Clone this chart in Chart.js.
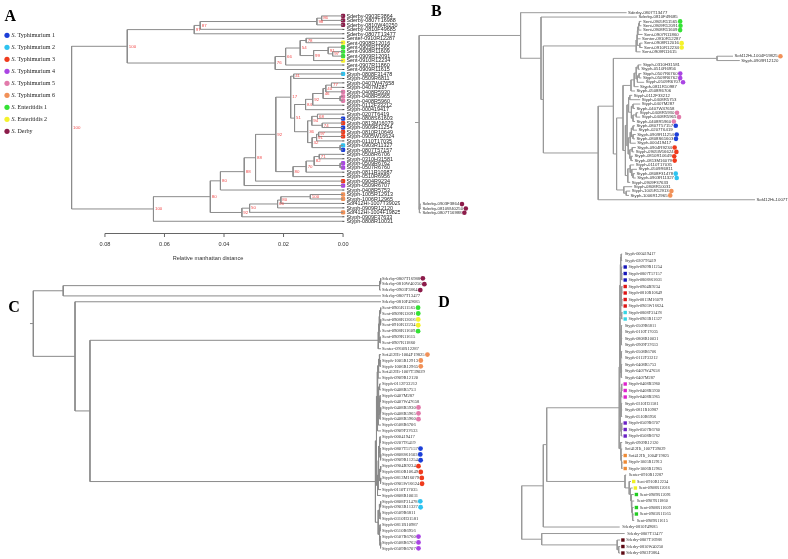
<!DOCTYPE html>
<html>
<head>
<meta charset="utf-8">
<title>Dendrograms A-D</title>
<script src="https://cdn.jsdelivr.net/npm/chart.js@4.4.1/dist/chart.umd.min.js"></script>
<style>
  body { margin: 0; background: #fff; }
  #wrap { position: relative; width: 788px; height: 559px; overflow: hidden; }
  canvas { position: absolute; }
</style>
</head>
<body>
<div id="wrap">
  <canvas id="treeA" style="left:0;top:0" width="400" height="270"></canvas>
  <canvas id="treeB" style="left:400px;top:0" width="388" height="230"></canvas>
  <canvas id="treeC" style="left:0;top:270px" width="440" height="289"></canvas>
  <canvas id="treeD" style="left:430px;top:240px" width="358" height="319"></canvas>
</div>
<script>
// Four trees of the same 47 Salmonella isolates

// --- Shared legend / colours ---
const legendKeys = ['T1', 'T2', 'T3', 'T4', 'T5', 'T6', 'E1', 'E2', 'D'];
const legendNames = ['Typhimurium 1', 'Typhimurium 2', 'Typhimurium 3', 'Typhimurium 4',
                     'Typhimurium 5', 'Typhimurium 6', 'Enteritidis 1', 'Enteritidis 2', 'Derby'];
const paletteMain = { T1: '#1c3fd8', T2: '#2ec3f0', T3: '#ef3b1d', T4: '#aa45e3', T5: '#e27bab',
                      T6: '#f19158', E1: '#35e235', E2: '#f5f22c', D: '#8c1c4a' };
const paletteD = { T1: '#1515b8', T2: '#35d5e5', T3: '#dd1515', T4: '#6a22c4', T5: '#dd22cc',
                   T6: '#ee8a35', E1: '#22cc22', E2: '#f0f020', D: '#5e0a14' };

// --- Panel A: UPGMA dendrogram, relative manhattan distance ---
const namesA = [
  'Sderby-0903F3864', 'Sderby-0807T16988', 'Sderby-0810W40250', 'Sderby-0810F49685', 'Sderby-0807T13477',
  'Senter-0910R12287', 'Sent-0908R12016', 'Sent-0905R11565', 'Sent-0908R11609', 'Sent-0909R12091',
  'Sent-0910R12234', 'Sent-0907R11860', 'Sent-0909R11615', 'Styph-0808F31478', 'Styph-0509R6811',
  'Styph-0407W47658', 'Styph-0407M287', 'Styph-0408R5930', 'Styph-0408R5965', 'Styph-0408R5960',
  'Styph-0112F33212', 'Styph-000419417', 'Styph-0207T6419', 'Styph-0808S61603', 'Styph-0813M16079',
  'Styph-0909R11254', 'Styph-0810R10649', 'Styph-0905W16624', 'Styph-0110T17035', 'Styph-0903R11327',
  'Styph-0807T57157', 'Styph-0508R6706', 'Styph-0310H31581', 'Styph-0509R6762', 'Styph-0507R6760',
  'Styph-0811R10987', 'Styph-0510R6956', 'Styph-0904R9234', 'Styph-0509R6707', 'Styph-0408R5753',
  'Styph-1005R12913', 'Styph-1006R12965', 'Sof412Hi-1007T39029', 'Styph-0909R12120', 'Sof412Hi-1004F19825',
  'Styph-0909F37633', 'Styph-0808R10031'
];
const colorsA = [
  'D', 'D', 'D', null, null, null, 'E2', 'E1', 'E1', 'E1',
  'E2', null, null, 'T2', null, null, null, 'T5', 'T5', 'T5',
  null, null, null, 'T1', 'T3', 'T1', 'T3', 'T3', null, 'T2',
  'T1', null, null, 'T4', 'T4', null, null, 'T3', 'T4', null,
  'T6', 'T6', null, null, 'T6', null, null
];
const tipsA = namesA.map(() => 0); // every leaf ends at distance 0
// [node, child, child, height, bootstrap]
const nodesA = [
  ['a1', 0, 1, 0.0072, 86], ['a2', 'a1', 2, 0.0088, 98], ['a3', 'a2', 3, 0.0480, 87], ['a4', 'a3', 4, 0.0500, 97],
  ['e1', 5, 6, 0.0124, 78], ['e2', 8, 9, 0.0035, 97], ['e3', 7, 'e2', 0.0050, 91], ['e4', 'e3', 10, 0.0099, 99],
  ['e5', 'e1', 'e4', 0.0144, 54], ['e6', 'e5', 11, 0.0193, 66], ['e7', 'e6', 12, 0.0228, 76],
  ['top', 'a4', 'e7', 0.0725, 100],
  ['t1', 13, 14, 0.0166, 41],
  ['p1', 15, 16, 0.0039, 77], ['p2', 'p1', 17, 0.0058, 40], ['p3', 18, 19, 0.0010, null], ['p4', 'p2', 'p3', 0.0067, 46],
  ['p5', 'p4', 20, 0.0102, 92], ['p6', 'p5', 21, 0.0126, 84],
  ['b1', 22, 23, 0.0086, 68], ['b2', 24, 25, 0.0070, 74], ['b3', 'b1', 'b2', 0.0105, 94],
  ['b4', 26, 27, 0.0082, 97], ['b5', 'b4', 28, 0.0089, 91], ['b6', 29, 30, 0.0010, null],
  ['b7', 'b5', 'b6', 0.0104, 32], ['b8', 'b3', 'b7', 0.0119, 36], ['b9', 'p6', 'b8', 0.0163, 51],
  ['t2', 't1', 'b9', 0.0176, 17],
  ['u1', 31, 32, 0.0080, 71], ['u2', 33, 34, 0.0010, null], ['u3', 'u1', 'u2', 0.0097, 82],
  ['u4', 'u3', 35, 0.0124, 70], ['u5', 'u4', 36, 0.0168, 80],
  ['t3', 't2', 'u5', 0.0226, 92], ['t4', 't3', 37, 0.0294, 88], ['t5', 't4', 38, 0.0332, 88], ['t6', 't5', 39, 0.0412, 80],
  ['o1', 40, 41, 0.0110, 100], ['o2', 'o1', 42, 0.0209, 80], ['o3', 'o2', 43, 0.0220, 66],
  ['o4', 'o3', 44, 0.0314, 50], ['o5', 'o4', 45, 0.0340, 92],
  ['t7', 't6', 'o5', 0.0446, 80], ['bot', 't7', 46, 0.0637, 100],
  ['root', 'top', 'bot', 0.0912, 100]
];
const axisTicksA = [0.08, 0.06, 0.04, 0.02, 0.00];

// --- Panel B: phylogram ---
const namesB = [
  'Sderby-0807T13477', 'Sderby-0810F49685', 'Sent-0905R11565', 'Sent-0909R12091', 'Sent-0908R11609',
  'Sent-0907R11860', 'Senter-0910R12287', 'Sent-0908R12016', 'Sent-0910R12234', 'Sent-0909R11615',
  'Sof412Hi-1004F19825', 'Styph-0909R12120', 'Styph-0310H31581', 'Styph-0510R6956', 'Styph-0507R6760',
  'Styph-0509R6762', 'Styph-0509R6707', 'Styph-0811R10987', 'Styph-0508R6706', 'Styph-0112F33212',
  'Styph-0408R5753', 'Styph-0407M287', 'Styph-0407W47658', 'Styph-0408R5930', 'Styph-0408R5965',
  'Styph-0408R5960', 'Styph-0807T57157', 'Styph-0207T6419', 'Styph-0909R11254', 'Styph-0808S61603',
  'Styph-000419417', 'Styph-0904R9234', 'Styph-0905W16624', 'Styph-0810R10649', 'Styph-0813M16079',
  'Styph-0110T17035', 'Styph-0509R6811', 'Styph-0808F31478', 'Styph-0903R11327', 'Styph-0909F37633',
  'Styph-0808R10031', 'Styph-1005R12913', 'Styph-1006R12965', 'Sof412Hi-1007T39029', 'Sderby-0903F3864',
  'Sderby-0810W40250', 'Sderby-0807T16988'
];
const colorsB = [
  null, null, 'E1', 'E1', 'E1', null, null, 'E2', 'E2', null,
  'T6', null, null, null, 'T4', 'T4', 'T4', null, null, null,
  null, null, null, 'T5', 'T5', 'T5', 'T1', null, 'T1', 'T1',
  null, 'T3', 'T3', 'T3', 'T3', null, null, 'T2', 'T2', null,
  null, 'T6', 'T6', null, 'D', 'D', 'D'
];
const tipsB = [
  0.519, 0.545, 0.556, 0.556, 0.556, 0.559, 0.554, 0.559, 0.559, 0.554,
  0.785, 0.802, 0.556, 0.552, 0.556, 0.556, 0.563, 0.549, 0.540, 0.533,
  0.553, 0.553, 0.540, 0.548, 0.553, 0.540, 0.540, 0.545, 0.542, 0.540,
  0.542, 0.542, 0.538, 0.535, 0.535, 0.538, 0.545, 0.540, 0.542, 0.528,
  0.533, 0.528, 0.525, 0.840, 0.005, 0.005, 0.005
];
const nodesB = [
  ['d1', 44, 45, 0.002], ['d2', 'd1', 46, 0.001],
  ['en1', 2, 3, 0.551], ['en2', 'en1', 4, 0.549], ['en3', 7, 8, 0.552], ['en4', 'en2', 5, 0.547],
  ['en5', 'en4', 6, 0.546], ['en6', 'en5', 'en3', 0.545], ['ent', 'en6', 9, 0.543],
  ['or', 10, 11, 0.745],
  ['g1', 12, 13, 0.548], ['g2', 14, 15, 0.550], ['g3', 'g2', 16, 0.546], ['g4', 'g1', 'g3', 0.543],
  ['g5', 'g4', 17, 0.538], ['g6', 'g5', 18, 0.530],
  ['h1', 19, 20, 0.527], ['h2', 21, 22, 0.535], ['h3', 23, 24, 0.543], ['h4', 'h3', 25, 0.535],
  ['h5', 'h2', 'h4', 0.531], ['h6', 'h1', 'h5', 0.524],
  ['k1', 26, 27, 0.535], ['k2', 28, 29, 0.535], ['k3', 'k1', 'k2', 0.531], ['k4', 'k3', 30, 0.528],
  ['k5', 31, 32, 0.533], ['k6', 33, 34, 0.530], ['k7', 'k5', 'k6', 0.527], ['k8', 'k4', 'k7', 0.523],
  ['m1', 37, 38, 0.535], ['m2', 36, 'm1', 0.532], ['m3', 35, 'm2', 0.528], ['m4', 'm3', 39, 0.522],
  ['q1', 'h6', 'k8', 0.520], ['q2', 'q1', 'm4', 0.516], ['q3', 'g6', 'q2', 0.510],
  ['o1', 41, 42, 0.518], ['o2', 40, 'o1', 0.512],
  ['T2', 'q3', 'o2', 0.494], ['T1', 'or', 'T2', 0.486], ['T0', 'T1', 43, 0.448],
  ['B3', 'ent', 'T0', 0.311], ['B2', 1, 'B3', 0.305], ['B1', 0, 'B2', 0.254],
  ['root', 'B1', 'd2', 0]
];

// --- Panel C: cladogram ---
const namesC = [
  'Sderby-0807T16988', 'Sderby-0810W40250', 'Sderby-0903F3864', 'Sderby-0807T13477', 'Sderby-0810F49685',
  'Sent-0905R11565', 'Sent-0909R12091', 'Sent-0908R12016', 'Sent-0910R12234', 'Sent-0908R11609',
  'Sent-0909R11615', 'Sent-0907R11860', 'Senter-0910R12287', 'Sof412Hi-1004F19825', 'Styph-1005R12913',
  'Styph-1006R12965', 'Sof412Hi-1007T39029', 'Styph-0909R12120', 'Styph-0112F33212', 'Styph-0408R5753',
  'Styph-0407M287', 'Styph-0407W47658', 'Styph-0408R5930', 'Styph-0408R5965', 'Styph-0408R5960',
  'Styph-0508R6706', 'Styph-0909F37633', 'Styph-000419417', 'Styph-0207T6419', 'Styph-0807T57157',
  'Styph-0808S61603', 'Styph-0909R11254', 'Styph-0904R9234', 'Styph-0810R10649', 'Styph-0813M16079',
  'Styph-0905W16624', 'Styph-0110T17035', 'Styph-0808R10031', 'Styph-0808F31478', 'Styph-0903R11327',
  'Styph-0509R6811', 'Styph-0310H31581', 'Styph-0811R10987', 'Styph-0510R6956', 'Styph-0507R6760',
  'Styph-0508R6762', 'Styph-0509R6707'
];
const colorsC = [
  'D', 'D', 'D', null, null, 'E1', 'E1', 'E2', 'E2', 'E1',
  null, null, null, 'T6', 'T6', 'T6', null, null, null, null,
  null, null, 'T5', 'T5', 'T5', null, null, null, null, 'T1',
  'T1', 'T1', 'T3', 'T3', 'T3', 'T3', null, null, 'T2', 'T2',
  null, null, null, null, 'T4', 'T4', 'T4'
];
const tipsC = namesC.map(() => 0);
const nodesC = [
  ['d1', 0, 1, 0.002], ['d2', 'd1', 2, 0.004], ['c1', 'd2', 3, 0.914],
  ['e1', 5, 6, 0.002], ['e2', 7, 8, 0.002], ['e3', 'e1', 'e2', 0.004], ['e4', 'e3', 9, 0.005],
  ['e5', 10, 11, 0.003], ['e6', 'e4', 'e5', 0.006], ['e7', 'e6', 12, 0.008],
  ['o1', 14, 15, 0.003], ['o2', 13, 'o1', 0.005], ['o3', 'o2', 16, 0.007], ['o4', 'o3', 17, 0.009],
  ['p1', 22, 23, 0.002], ['p2', 'p1', 24, 0.003], ['p3', 20, 21, 0.003], ['p4', 'p3', 'p2', 0.005],
  ['p5', 18, 19, 0.004], ['p6', 'p5', 'p4', 0.007], ['p7', 'p6', 25, 0.008], ['p8', 'p7', 26, 0.010],
  ['b1', 27, 28, 0.003], ['b0', 30, 31, 0.002], ['b2', 29, 'b0', 0.003], ['b3', 'b1', 'b2', 0.005],
  ['r1', 32, 33, 0.002], ['r2', 34, 35, 0.002], ['r3', 'r1', 'r2', 0.004], ['b4', 'b3', 'r3', 0.007],
  ['b5', 'b4', 36, 0.008], ['b6', 'b5', 37, 0.010],
  ['q1', 38, 39, 0.002], ['q2', 40, 41, 0.003], ['q3', 'q1', 'q2', 0.005], ['q4', 42, 43, 0.003],
  ['q0', 45, 46, 0.002], ['q5', 44, 'q0', 0.003], ['q6', 'q4', 'q5', 0.005], ['q7', 'q3', 'q6', 0.008],
  ['t1', 'o4', 'p8', 0.011], ['t2', 't1', 'b6', 0.013], ['t3', 't2', 'q7', 0.016],
  ['c3', 'e7', 't3', 0.837], ['c2', 4, 'c3', 0.880], ['root', 'c1', 'c2', 1.0]
];

// --- Panel D: phylogram ---
const namesD = [
  'Styph-000419417', 'Styph-0207T6419', 'Styph-0909R11254', 'Styph-0807T57157', 'Styph-0808S61603',
  'Styph-0904R9234', 'Styph-0810R10649', 'Styph-0813M16079', 'Styph-0905W16624', 'Styph-0808F31478',
  'Styph-0903R11327', 'Styph-0509R6811', 'Styph-0110T17035', 'Styph-0808R10031', 'Styph-0909F37633',
  'Styph-0508R6706', 'Styph-0112F33212', 'Styph-0408R5753', 'Styph-0407W47658', 'Styph-0407M287',
  'Styph-0408R5960', 'Styph-0408R5930', 'Styph-0408R5965', 'Styph-0310H31581', 'Styph-0811R10987',
  'Styph-0510R6956', 'Styph-0509R6707', 'Styph-0507R6760', 'Styph-0508R6762', 'Styph-0909R12120',
  'Sof412Hi_1007T39029', 'Sof412Hi_1004F19825', 'Styph-1005R12913', 'Styph-1006R12965', 'Senter-0910R12287',
  'Sent-0910R12234', 'Sent-0908R12016', 'Sent-0909R12091', 'Sent-0907R11860', 'Sent-0908R11609',
  'Sent-0905R11565', 'Sent-0909R11615', 'Sderby-0810F49685', 'Sderby-0807T13477', 'Sderby-0807T16988',
  'Sderby-0810W40250', 'Sderby-0903F3864'
];
const colorsD = [
  null, null, 'T1', 'T1', 'T1', 'T3', 'T3', 'T3', 'T3', 'T2',
  'T2', null, null, null, null, null, null, null, null, null,
  'T5', 'T5', 'T5', null, null, null, 'T4', 'T4', 'T4', null,
  null, 'T6', 'T6', 'T6', null, 'E2', 'E2', 'E1', null, 'E1',
  'E1', null, null, null, 'D', 'D', 'D'
];
const tipsD = [
  0.1005, 0.1005, 0.1008, 0.1008, 0.1008, 0.1008, 0.1008, 0.1008, 0.1008, 0.1008,
  0.1008, 0.1005, 0.1005, 0.1005, 0.1005, 0.1005, 0.1005, 0.1005, 0.1005, 0.1005,
  0.1008, 0.1008, 0.1008, 0.1005, 0.1005, 0.1005, 0.1008, 0.1008, 0.1008, 0.1005,
  0.1005, 0.1008, 0.1008, 0.1008, 0.1045, 0.1093, 0.1110, 0.1120, 0.1125, 0.1120,
  0.1120, 0.1125, 0.0980, 0.1030, 0.0985, 0.0985, 0.0985
];
const nodesD = [
  ['a1', 3, 4, 0.1000], ['a2', 2, 'a1', 0.0995], ['a3', 0, 1, 0.0995], ['a4', 'a3', 'a2', 0.0990],
  ['r1', 5, 6, 0.1000], ['r2', 7, 8, 0.1000], ['r3', 'r1', 'r2', 0.0995], ['c1', 9, 10, 0.1000],
  ['r4', 'r3', 'c1', 0.0990], ['a5', 'a4', 'r4', 0.0985],
  ['s1', 11, 12, 0.0998], ['s2', 13, 14, 0.0998], ['s3', 's1', 's2', 0.0993], ['s4', 15, 16, 0.0998],
  ['s5', 17, 18, 0.0998], ['s6', 's5', 19, 0.0995], ['s7', 's4', 's6', 0.0990], ['s8', 's3', 's7', 0.0986],
  ['p1', 20, 21, 0.1000], ['p2', 'p1', 22, 0.0996], ['p3', 23, 24, 0.0998], ['p4', 'p3', 25, 0.0994],
  ['p5', 'p2', 'p4', 0.0990], ['u1', 26, 27, 0.1000], ['u2', 'u1', 28, 0.0996], ['p6', 'p5', 'u2', 0.0986],
  ['o1', 32, 33, 0.1000], ['o2', 31, 'o1', 0.0996], ['o3', 30, 'o2', 0.0992], ['o4', 29, 'o3', 0.0988],
  ['T1', 'a5', 's8', 0.0982], ['T2', 'T1', 'p6', 0.0979], ['ty', 'T2', 'o4', 0.0975],
  ['en6', 40, 41, 0.1110], ['en5', 39, 'en6', 0.1105], ['en4', 38, 'en5', 0.1100], ['en3', 37, 'en4', 0.1095],
  ['en2', 36, 'en3', 0.1088], ['en1', 35, 'en2', 0.1075], ['ent', 34, 'en1', 0.1033],
  ['Nb', 'ty', 'ent', 0.0250], ['Na', 'Nb', 42, 0.0216],
  ['tr0', 45, 46, 0.0970], ['tr', 44, 'tr0', 0.0955], ['Nd', 43, 'tr', 0.0200],
  ['root', 'Na', 'Nd', 0]
];

// --- Tree layout: leaves at y = index, node y = middle of its two children ---
function layoutTree(nodes, tips) {
  const pos = {};
  tips.forEach((x, i) => { pos[i] = { x, y: i }; });
  const paths = [];
  nodes.forEach(([id, a, b, x]) => {
    const p = pos[a], q = pos[b];
    pos[id] = { x, y: (p.y + q.y) / 2 };
    paths.push([{ x: p.x, y: p.y }, { x, y: p.y }, { x, y: q.y }, { x: q.x, y: q.y }]);
  });
  return { pos, paths };
}

function makeTree(id, opt) {
  const tree = layoutTree(opt.nodes, opt.tips);
  const root = tree.pos[opt.nodes[opt.nodes.length - 1][0]];
  if (opt.stub) tree.paths.push([{ x: root.x, y: root.y }, { x: root.x + opt.stub, y: root.y }]);

  const datasets = tree.paths.map(p => ({
    data: p, showLine: true, borderColor: opt.lineColor, borderWidth: 1,
    pointRadius: 0, pointHoverRadius: 0, tension: 0
  }));
  if (opt.tipDots) {
    const idx = opt.colors.map((c, i) => c ? i : -1).filter(i => i >= 0);
    datasets.push({
      data: idx.map(i => ({ x: opt.tips[i], y: i })),
      pointStyle: 'rectRounded', pointRadius: 2.5, borderWidth: 0,
      backgroundColor: idx.map(i => opt.palette[opt.colors[i]])
    });
  }

  return new Chart(document.getElementById(id), {
    type: 'scatter',
    data: { datasets },
    options: {
      responsive: false,
      animation: false,
      events: [],
      layout: { padding: 0 },
      plugins: { legend: { display: false }, tooltip: { enabled: false } },
      scales: {
        x: { type: 'linear', display: false, min: opt.xMin, max: opt.xMax, reverse: !!opt.xReverse },
        y: { type: 'linear', display: false, min: opt.yMin, max: opt.yMax, reverse: true }
      }
    },
    plugins: [{ id: 'treeText', afterDraw: chart => opt.draw(chart, tree) }]
  });
}

function panelLetter(ctx, letter, x, y) {
  ctx.font = 'bold 16px "Liberation Serif", "DejaVu Serif", serif';
  ctx.textAlign = 'left';
  ctx.textBaseline = 'alphabetic';
  ctx.fillStyle = '#000';
  ctx.fillText(letter, x, y);
}

// labels followed by a coloured dot (panels B and C)
function labelsThenDots(chart, names, tips, colors, font, gap, dotR) {
  const ctx = chart.ctx, xs = chart.scales.x, ys = chart.scales.y;
  ctx.font = font;
  ctx.textBaseline = 'middle';
  ctx.textAlign = 'left';
  names.forEach((name, i) => {
    const x = xs.getPixelForValue(tips[i]) + gap, y = ys.getPixelForValue(i);
    ctx.fillStyle = '#333';
    ctx.fillText(name, x, y);
    if (colors[i]) {
      const w = ctx.measureText(name).width;
      ctx.fillStyle = paletteMain[colors[i]];
      ctx.beginPath();
      ctx.arc(x + w + dotR + 0.4, y, dotR, 0, 2 * Math.PI);
      ctx.fill();
    }
  });
}

// --- Panel A ---
makeTree('treeA', {
  nodes: nodesA, tips: tipsA, colors: colorsA, palette: paletteMain, tipDots: true,
  lineColor: '#8c8c8c',
  xMin: -0.01778, xMax: 0.11391, xReverse: true,
  yMin: -2.674, yMax: 56.02,
  draw(chart, tree) {
    const ctx = chart.ctx, xs = chart.scales.x, ys = chart.scales.y;
    ctx.save();
    ctx.textBaseline = 'middle';
    ctx.textAlign = 'left';
    ctx.font = '5.4px "Liberation Sans", Arial, sans-serif';
    namesA.forEach((name, i) => {
      const x = xs.getPixelForValue(tipsA[i]), y = ys.getPixelForValue(i);
      if (!colorsA[i]) { ctx.fillStyle = '#111'; ctx.fillRect(x - 0.5, y - 0.4, 1.8, 0.8); }
      ctx.fillStyle = '#222';
      ctx.fillText(name, x + 3.4, y + 0.3);
    });

    // bootstrap support at each node
    ctx.font = '4.4px "Liberation Sans", Arial, sans-serif';
    ctx.fillStyle = '#f04a4a';
    nodesA.forEach(([id, , , , s]) => {
      if (s == null) return;
      const p = tree.pos[id];
      ctx.fillText(String(s), xs.getPixelForValue(p.x) + 1.5, ys.getPixelForValue(p.y));
    });

    // distance axis
    const axisY = 233.5;
    const x0 = xs.getPixelForValue(axisTicksA[0]);
    const x1 = xs.getPixelForValue(axisTicksA[axisTicksA.length - 1]);
    ctx.strokeStyle = '#666';
    ctx.lineWidth = 1;
    ctx.beginPath();
    ctx.moveTo(x0, axisY);
    ctx.lineTo(x1, axisY);
    axisTicksA.forEach(t => {
      const x = xs.getPixelForValue(t);
      ctx.moveTo(x, axisY);
      ctx.lineTo(x, axisY + 3.5);
    });
    ctx.stroke();
    ctx.fillStyle = '#333';
    ctx.textAlign = 'center';
    ctx.font = '5.6px "Liberation Sans", Arial, sans-serif';
    axisTicksA.forEach(t => ctx.fillText(t.toFixed(2), xs.getPixelForValue(t), 244));
    ctx.fillText('Relative manhattan distance', 208, 258);

    // legend
    ctx.textAlign = 'left';
    legendKeys.forEach((k, j) => {
      const y = 35.3 + j * 12;
      ctx.fillStyle = paletteMain[k];
      ctx.beginPath();
      ctx.arc(7, y, 2.6, 0, 2 * Math.PI);
      ctx.fill();
      ctx.fillStyle = '#222';
      ctx.font = 'italic 6px "Liberation Serif", serif';
      ctx.fillText('S.', 11.5, y + 0.3);
      const w = ctx.measureText('S. ').width;
      ctx.font = '6px "Liberation Serif", serif';
      ctx.fillText(legendNames[j], 11.5 + w, y + 0.3);
    });

    panelLetter(ctx, 'A', 4.5, 20.8);
    ctx.restore();
  }
});

// --- Panel B ---
makeTree('treeB', {
  nodes: nodesB, tips: tipsB, colors: colorsB, stub: -0.01,
  lineColor: '#9a9a9a',
  xMin: -0.0475, xMax: 0.9225,
  yMin: -2.92, yMax: 49.95,
  draw(chart) {
    const ctx = chart.ctx;
    ctx.save();
    labelsThenDots(chart, namesB, tipsB, colorsB, '4.3px "Liberation Sans", Arial, sans-serif', 1.5, 2.3);
    panelLetter(ctx, 'B', 31, 15.7);
    ctx.restore();
  }
});

// --- Panel C ---
makeTree('treeC', {
  nodes: nodesC, tips: tipsC, colors: colorsC, stub: 0.0096,
  lineColor: '#8a8a8a',
  xMin: -0.1697, xMax: 1.0958, xReverse: true,
  yMin: -1.414, yMax: 47.82,
  draw(chart) {
    const ctx = chart.ctx;
    ctx.save();
    labelsThenDots(chart, namesC, tipsC, colorsC, '4.6px "Liberation Serif", serif', 1, 2.4);
    panelLetter(ctx, 'C', 8.3, 42.3);
    ctx.restore();
  }
});

// --- Panel D ---
makeTree('treeD', {
  nodes: nodesD, tips: tipsD, colors: colorsD,
  lineColor: '#999999',
  xMin: -0.0917, xMax: 0.2663,
  yMin: -2.154, yMax: 46.92,
  draw(chart) {
    const ctx = chart.ctx, xs = chart.scales.x, ys = chart.scales.y;
    ctx.save();
    ctx.font = '4.3px "Liberation Serif", serif';
    ctx.textBaseline = 'middle';
    ctx.textAlign = 'left';
    namesD.forEach((name, i) => {
      const x = xs.getPixelForValue(tipsD[i]), y = ys.getPixelForValue(i);
      let tx = x + 2.5;
      if (colorsD[i]) {
        ctx.fillStyle = paletteD[colorsD[i]];
        ctx.fillRect(x + 1, y - 1.7, 3.4, 3.4);
        tx = x + 6;
      }
      ctx.fillStyle = '#333';
      ctx.fillText(name, tx, y);
    });
    panelLetter(ctx, 'D', 8.3, 67.3);
    ctx.restore();
  }
});
</script>
</body>
</html>
